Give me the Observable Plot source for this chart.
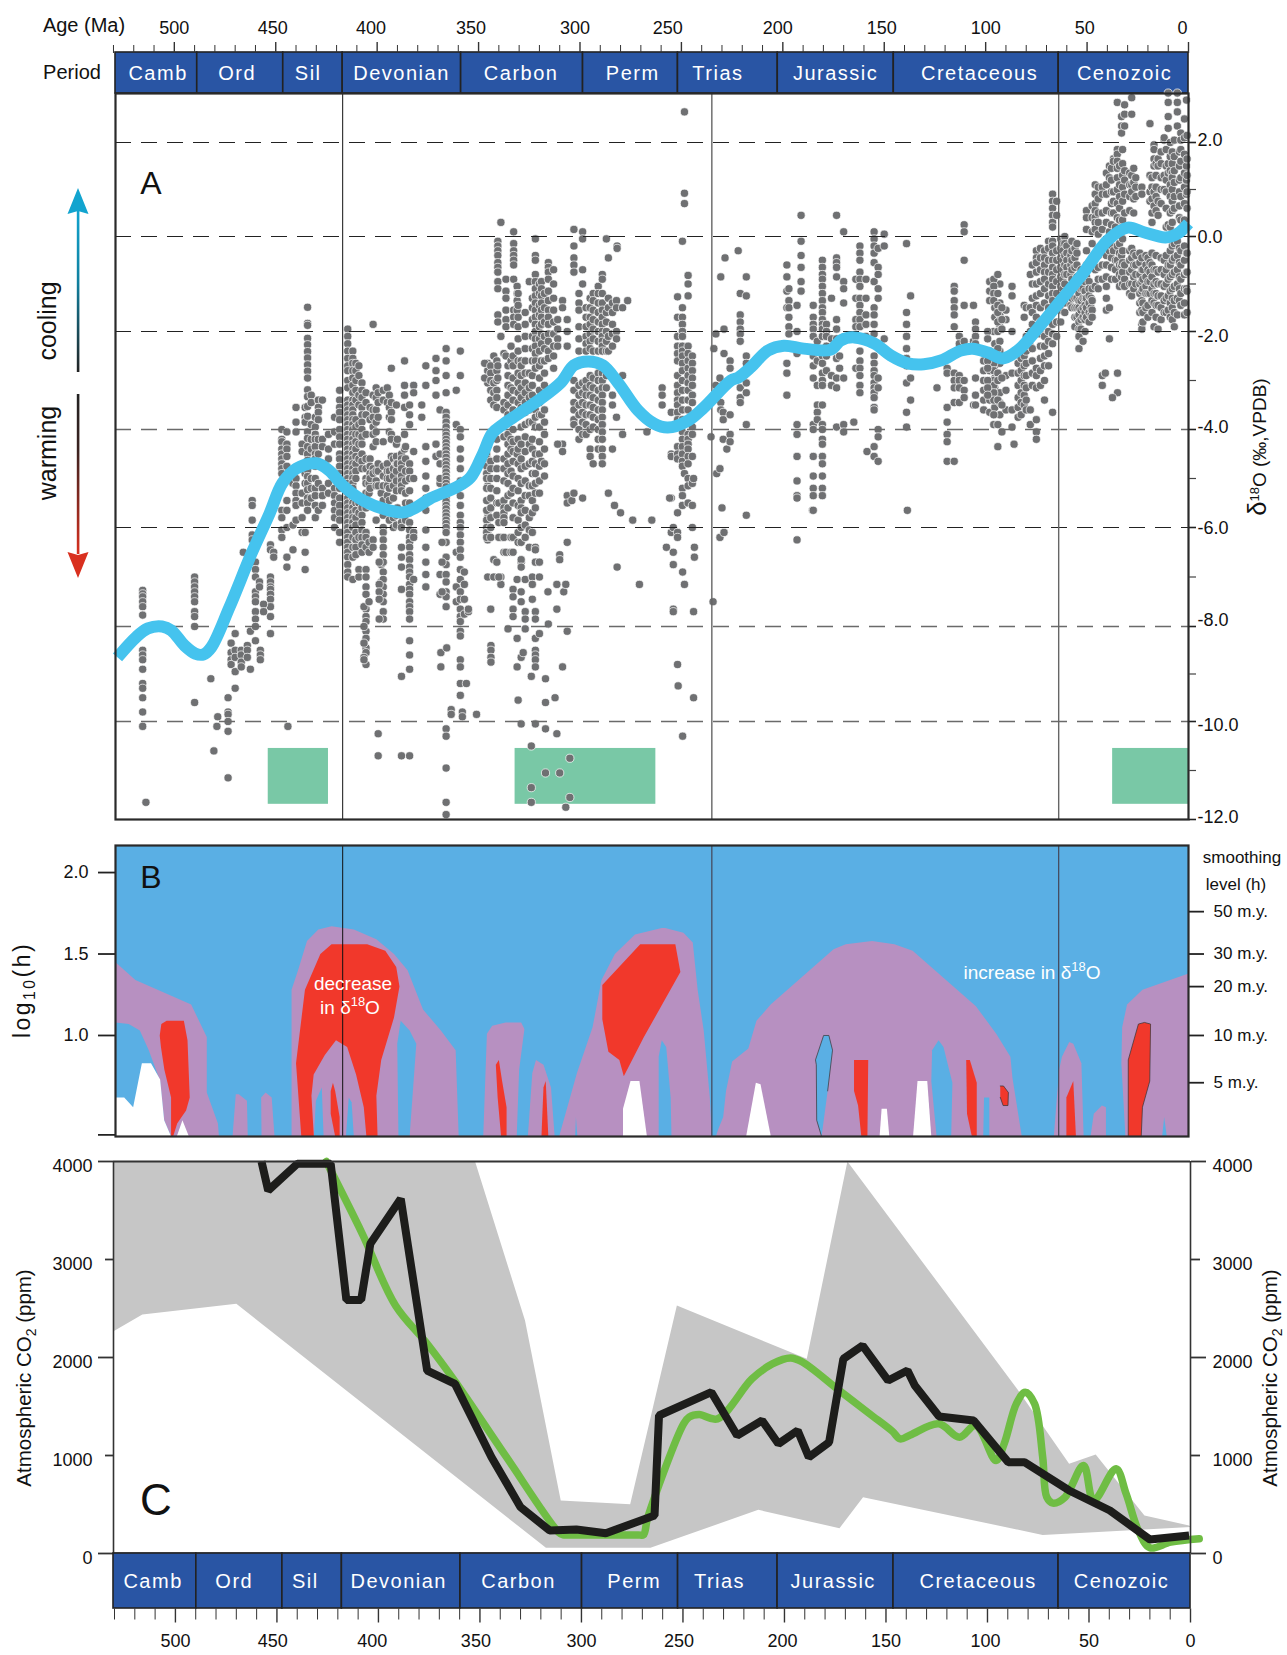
<!DOCTYPE html>
<html><head><meta charset="utf-8">
<script src="https://cdn.jsdelivr.net/npm/d3@7"></script>
<script src="https://cdn.jsdelivr.net/npm/@observablehq/plot@0.6"></script>
<style>
html,body{margin:0;padding:0;background:#fff}
#root{position:relative;width:1287px;height:1655px;overflow:hidden;font-family:"Liberation Sans",Arial,sans-serif;color:#111}
.lab{position:absolute;white-space:nowrap;line-height:1;transform:translate(-50%,-50%)}
.rot{transform:translate(-50%,-50%) rotate(-90deg)}
.lab sup,.lab sub{font-size:.68em;line-height:0}
</style></head><body><div id="root"></div>
<script>
// ---------- time axis ----------
const majorTicks=[500,450,400,350,300,250,200,150,100,50,0];
const minorTicks=[530,520,510,490,480,470,460,440,430,420,410,390,380,370,360,340,330,320,310,290,280,270,260,240,230,220,210,190,180,170,160,140,130,120,110,90,80,70,60,40,30,20,10];
const periodNames=["Camb","Ord","Sil","Devonian","Carbon","Perm","Trias","Jurassic","Cretaceous","Cenozoic"];
const periodEdgesTop=[529,488.7,446.3,417,358.6,298.5,251.7,202.5,145.3,64,0];
const periodEdgesBottom=[530.5,489.7,447.3,418,359.6,299.7,252.4,203.4,146.3,65,0];
const periodLabelTop=[508,469,434,388,329,274,232,174,103,31.5];
const periodLabelBottom=[511,471,436,390,331,274,232,176,104.6,34];
const topTickLabelAt=[500,451.5,403,353.7,302.5,256.7,202.5,151.2,100,51.2,3];
const bottomTickLabelAt=[500,452,403,352,300,252,201,150,101,50,0];
const boundaryAges=[417,235,64];
// ---------- panel A ----------
const d18oTicks=[2,0,-2,-4,-6,-8,-10,-12];
const d18oTickLabelAt=[2.04,-0.02,-2.1,-3.96,-6.02,-7.88,-10.08,-11.96];
const d18oMinor=[1,-1,-3,-5,-7,-9,-11];
const glacialStart=[453.7,332,37.4];
const glacialEnd=[424,262.6,0];
const trendAge=[528,519,513,506,501.5,495,489.7,485.7,481.8,472.9,462,453,446.8,439.9,430,423.6,417,406.9,396,387,380.8,373.9,361,354,347.8,343.3,337.4,320.7,309.4,303,296,288.7,281,271.4,263.5,256.7,246.8,238.9,225.6,222,215.8,207.4,199.5,189.7,176.4,171.4,165,155,146.8,138.4,130.5,122,112.3,106.4,99,91.6,84.2,74.4,63,51.7,39.9,30,22,11.3,5.4,0];
const trendD18o=[-8.65,-8.23,-8.04,-8,-8.08,-8.4,-8.57,-8.59,-8.44,-7.62,-6.53,-5.71,-5.1,-4.8,-4.69,-4.84,-5.14,-5.45,-5.63,-5.69,-5.59,-5.41,-5.18,-4.98,-4.49,-4.08,-3.88,-3.41,-3.04,-2.69,-2.61,-2.69,-3.06,-3.61,-3.88,-3.96,-3.82,-3.55,-3,-2.94,-2.73,-2.39,-2.29,-2.35,-2.37,-2.18,-2.12,-2.24,-2.49,-2.65,-2.67,-2.59,-2.39,-2.35,-2.43,-2.55,-2.39,-1.94,-1.35,-0.76,-0.08,0.19,0.09,-0.02,0.06,0.28];
// each row: age, then the delta-18-O readings stacked at that age
const cambrianOrdovicianPoints=[
[515.6,-7.27,-7.34,-7.4,-7.5,-7.6,-7.77,-8.5,-8.6,-8.7,-8.9,-9.2,-9.3,-9.5,-9.8,-10.1],[514,-11.65],
[490,-7,-7.1,-7.2,-7.3,-7.4,-7.5,-7.7,-7.8,-8,-9.6],[482,-9.1],[473.5,-9.5,-9.8,-9.85,-10,-10.2,-11.15],[470,-9.3],[478.6,-9.9],[479,-10.1],[480.5,-10.6],
[472,-8.35,-8.55,-8.7,-8.8],[470,-8.15,-8.5,-8.65,-8.95],[467,-8.5,-8.6,-8.75,-8.85],[464,-8.4,-8.5,-8.65],[462.5,-8.1,-8.9],[460,-8.3],[457.6,-8.5,-8.6,-8.7],
[461.6,-5.45,-5.55,-5.85,-6.15,-6.25],[460,-6.7,-6.85,-7,-7.3,-7.4,-7.5,-7.7,-7.85,-8],[466,-6.5],[452.6,-6.35,-6.45,-7,-7.1,-7.2,-7.25,-7.35,-7.45,-7.6,-7.8,-8.15],[456,-7.55,-7.7],[451,-6.5,-6.6],[458,-7.1,-7.2],[444,-10.1]];
const silurianPoints=[
[447,-4,-4.2,-4.25,-4.4,-4.5,-4.6,-4.7,-4.8,-4.9,-5.65,-5.8,-6.05,-6.2],[444.5,-4.05,-4.3,-4.4,-4.55,-4.75,-5.45,-5.65,-6,-6.6,-6.8],[441.5,-4.95,-6.45,-5.1,-5.95],
[440,-3.55,-3.85,-4.05,-5,-5.15,-5.3,-5.45,-5.55,-5.85],[437,-4.3,-4.45,-5.3,-5.5,-5.8,-6.1],[435.5,-3.55,-3.75,-3.85,-4.9,-5.1,-6.1,-6.5,-6.85],
[434.3,-1.49,-1.83,-1.87,-2.14,-2.27,-2.41,-2.54,-2.68,-2.81,-2.95,-3.19,-3.33,-3.53,-3.73,-4.05,-4.18,-4.35,-4.5,-4.63,-4.83,-4.96,-5.1,-5.23,-5.4,-5.5,-5.65],
[432.5,-3.3,-3.45,-3.9,-4.2,-4.4,-5,-5.2,-5.4],[430.5,-3.75,-3.95,-4.1,-4.2,-4.35,-4.5,-4.6,-4.75,-5,-5.2,-5.35,-5.55,-5.8],[429,-3.4,-3.55,-3.65,-3.8,-4.2,-4.5,-5.1,-5.65],
[427,-3.4,-4.2,-4.35,-5.2,-5.35,-5.55],[424,-4.1,-4.4,-4.6,-4.8,-5.1,-5.3],[421,-3.75,-4.05,-4.3,-5.2,-5.35,-5.5,-5.65,-5.8,-6],
[418.5,-3.2,-3.4,-3.55,-3.65,-3.8,-4,-4.15,-4.3,-4.5,-4.6,-4.75,-4.9,-5,-5.2,-5.4,-5.55,-5.7,-5.85,-6.1,-6.3]];
const devonianPoints=[
[414.5,-1.95,-2.1,-2.25,-2.4,-2.55,-2.7,-2.8,-3,-3.15,-3.4,-3.5,-3.6,-3.7,-3.8,-3.9,-4,-4.1,-4.2,-4.3,-4.4,-4.5,-4.6,-4.7,-4.8,-4.9,-5,-5.1,-5.2,-5.3,-5.4,-5.5,-5.6,-5.7,-5.8,-5.9,-6,-6.1,-6.2,-6.3,-6.4,-6.5,-6.6,-6.75,-6.9,-7],
[412,-2.4,-2.55,-2.65,-2.8,-2.95,-3.1,-3.25,-3.4,-3.5,-3.6,-3.7,-3.8,-3.9,-4,-4.1,-4.2,-4.3,-4.4,-4.5,-4.6,-4.7,-4.8,-4.9,-5,-5.1,-5.2,-5.3,-5.4,-5.5,-5.6,-5.7,-5.8,-5.9,-6,-6.2,-6.4,-6.6,-7.05],
[410.5,-2.65,-2.8,-3,-3.2,-3.4,-3.8,-3.95,-4.1,-4.25,-4.4,-4.55,-4.7,-4.85,-5,-5.5,-5.65,-5.8,-5.95,-6.1,-6.25,-6.4,-6.55],
[409,-2.7,-2.9,-3.3,-3.5,-3.9,-4.1,-4.3,-4.6,-5.5,-5.7,-6.2,-6.85,-7],
[407.5,-3.05,-3.2,-3.35,-3.55,-3.7,-3.85,-4,-4.15,-4.3,-4.5,-4.65,-4.8,-5.4,-5.6,-5.75,-5.9,-6.05,-6.2,-6.35,-6.5],
[405.5,-3.25,-3.45,-3.7,-4.1,-4.6,-4.8,-5,-5.1,-5.3,-5.45,-5.6,-6.1,-6.2,-6.4,-6.85,-7,-7.2,-7.35,-7.65,-7.8,-7.9,-8.1,-8.25,-8.45,-8.55,-8.8],[406.5,-7.6,-8,-8.35,-8.65,-8.7],[404,-5.1,-5.3,-5.55,-6.3,-6.5,-7.5],[403.5,-3.55,-3.8,-4.6,-4.75,-4.9,-5,-5.2],
[402,-1.85,-3.3,-3.6,-3.75,-3.95,-4.1,-4.35,-4.8,-4.9,-6.25,-6.4],[400.5,-3.15,-3.35,-3.6,-3.85,-4.05,-4.25,-4.85,-5.05,-5.15,-5.85],[399.5,-3.25,-3.45,-3.75,-4.7,-4.85,-5.15,-10.25,-10.7],[398,-5.3,-6.75,-7.1],
[397,-3.2,-3.4,-4.25,-4.75,-4.95,-5.15,-5.45,-5.75,-6,-6.1,-6.25,-6.4,-6.55,-6.7,-6.9,-7.05,-7.2,-7.35,-7.5,-7.7,-7.85],[399,-7.15,-7.3,-7.45,-7.85,-6.7],[395,-3.15,-3.45,-4.7,-4.85,-5,-5.15,-5.35],[394,-3.3,-3.55,-3.75,-4.05,-4.85,-5,-5.2,-5.45,-5.65,-5.85],
[393,-2.75,-3.45,-3.65,-3.8,-4.1,-4.2,-4.55],[392,-4.6,-4.8,-4.95,-5.15,-5.4,-5.8,-6],[390.5,-3.5,-4.3,-4.55,-4.7,-4.85,-5.05,-5.25,-5.75,-5.95],[390,-4.2,-4.7,-5.6],
[388,-4.5,-4.6,-4.7,-4.8,-4.95,-5.05,-5.15,-5.25,-5.75,-5.9,-6,-6.4,-6.6,-6.8,-7.25,-9.05,-10.7],[386.5,-2.6,-3.1,-3.3,-3.55,-4.1,-4.4],[386,-4.35,-4.6,-4.85,-5.05,-5.3,-5.5,-5.85],
[384,-3.5,-3.7,-3.9,-4.7,-4.85,-5,-5.25,-5.5,-5.7,-5.9,-6.05,-6.2,-6.3,-6.4,-6.55,-6.65,-6.8,-6.9,-7,-7.15,-7.25,-7.35,-7.5,-7.6,-7.7,-7.85,-8.3,-8.6,-8.9,-10.7],
[382,-3.1,-3.25,-4.45,-5,-6.1,-6.2,-7.05],[378,-3.75,-3.5],[376,-2.7,-3.1,-4.35,-4.65,-4.95,-5.2,-5.4,-5.65,-6.05,-6.4,-6.7,-6.95,-7.2],[371,-2.55,-2.8,-3,-3.3,-4.3,-4.55],[369,-3.6,-4.5,-4.7,-5.1,-5,-6.95,-7.35],[368.6,-8.55,-8.85],[365.7,-8.45],
[366,-2.35,-2.6,-2.9,-3.25,-3.65,-3.75,-3.85,-3.95,-4.05,-4.12,-4.2,-4.27,-4.35,-4.42,-4.5,-4.57,-4.65,-4.72,-4.8,-4.87,-4.95,-5.02,-5.1,-5.17,-5.25,-5.32,-5.4,-5.47,-5.55,-5.62,-5.7,-5.77,-5.85,-5.92,-6,-6.1,-6.3,-6.6,-6.75,-6.95,-7.1,-7.3,-7.4,-7.6,-10.15,-10.3,-10.95,-11.65,-11.9],[368,-6.3,-6.7,-7.3],
[361,-3.2,-3.9,-6.5,-7.2,-7.5],[359,-2.4,-2.9,-4,-4.15,-4.4,-4.6,-4.8,-5.05,-5.35,-5.55,-5.75,-5.9,-6,-6.15,-6.3,-6.45,-6.6,-6.85,-7.05,-7.3,-7.45,-7.65,-7.8,-7.9,-8.1,-8.2,-8.7,-8.85,-9.2,-9.45],[357,-6.9,-7.15,-7.45,-7.75],[355,-7.7,-7.65],[363.5,-9.75,-9.85],[358,-9.8,-9.9],[356,-9.2],[351,-9.85]];
const carboniferousPoints=[
[345.5,-2.65,-2.8,-2.95,-3.05,-4.6,-4.75,-4.85,-5,-5.15,-5.45,-5.7,-5.8,-5.95,-6.1,-6.25,-7],[346,-4.5,-4.6,-4.75,-4.9,-5,-5.2,-5.45,-5.65,-5.85,-6,-6.1,-6.2],[347,-2.65,-2.95],[344,-2.7,-2.85,-3,-3.2,-3.4,-4.65,-4.8,-5,-5.2,-5.4,-5.6,-5.8,-6,-6.2,-7.65],[343.9,-8.4,-8.5,-8.65,-8.75],
[342.5,-2.5,-3.05,-3.25,-3.5,-6.65,-7],[341,-2.6,-2.8,-3,-3.2,-3.35,-3.55,-4.2,-4.4,-4.6,-4.8,-5,-5.25,-5.5,-5.75,-6.7],[340.5,-0.1,-0.2,-0.3,-0.4,-0.55,-0.65,-0.75,-0.95,-1.1,-1.65,-1.8,-2.7,-2.95],[339,0.3,-2.1,-6.2,-7,-7.15],[340,-5.5,-5.9,-6.2,-7],
[337.5,-2.45,-3.45,-3.6,-4.15,-4.6,-4.8,-5.05,-5.45,-5.6,-5.7,-5.8,-5.9,-6.2,-6.5],[336.5,-0.9,-1.15,-1.3,-1.55,-1.75,-1.9,-2.5,-6.5],[335.5,-2.7,-2.9,-3.1,-3.3,-3.5,-3.7,-4.1,-4.3,-4.5,-4.7,-4.9,-5.1,-5.35,-5.6,-8.05],[334,-2.3,-2.6,-3.15,-4.2,-4.4,-4.85,-5.3,-6.2,-6.5],
[333,-2.5,-2.7,-2.95,-3.2,-3.4,-3.6,-3.8,-4,-4.25,-4.45,-4.65,-4.95,-5.2,-5.5,-5.8,-6.2,-6.5,-7.25,-7.4,-7.65,-7.8],
[332.7,0.1,-0.15,-0.3,-0.4,-0.5,-0.6,-0.9,-1.55,-1.7,-1.85],[331,-1.05,-1.2,-1.35,-1.55,-4.5,-8.85,-7.05,-8.25],[330.5,-1.2,-1.45,-1.7,-1.9,-2.15,-2.4,-2.6,-2.85,-3.05,-3.25,-3.45,-3.65,-4.2,-4.4,-4.7,-5,-5.25,-5.55,-5.85,-6.1,-6.3,-9.55],[329,-2.6,-2.7,-2.9,-3.15,-3.35,-3.55,-3.95,-4.3,-4.6,-4.8,-5.1,-5.45,-5.6,-5.7,-6,-6.3,-6.7,-6.65,-6.8,-7.3,-7.5,-8.65,-10.05],[328,-8.55],
[327,-1.6,-1.85,-2.1,-2.35,-2.6,-2.85,-3.05,-3.25,-3.45,-3.65,-3.9,-4.15,-4.45,-4.75,-5.05,-5.35,-5.65,-5.95,-6.2,-7.05,-7.7,-7.85,-8.05],[325,-0.95,-2.85,-3.15,-3.35,-3.6,-3.85,-4.3,-4.7,-5.15,-5.35,-5.8,-6.05,-6.4],[324,-11.35,-11.65,-10.5,-9.05],
[323.5,-1.3,-1.5,-1.75,-2.1,-2.35,-2.6,-2.9,-3.1,-3.3,-3.5,-3.85,-4.2,-4.4,-4.65,-4.9,-5.15,-5.45,-5.7,-6.1,-7,-7.15,-7.45],[322,-0.05,-0.4,-0.5,-0.8,-0.95,-1.1,-1.25,-1.4,-1.55,-1.7,-1.85,-2,-2.15,-2.3,-2.45,-2.6,-2.75,-3.6,-3.75,-3.95,-4.5,-4.7,-4.9,-5.1,-5.3,-5.6,-6.4,-6.45,-6.7,-7.7,-7.85,-8.25,-8.5,-8.6,-8.7,-8.85,-10.05],
[320,-1,-1.2,-1.45,-1.65,-1.9,-2.15,-2.4,-2.7,-2.95,-3.2,-3.45,-3.7,-3.95,-4.25,-4.5,-4.75,-5.05,-5.3,-6.7,-7,-8.15],[319,-0.95,-1.1,-1.25,-1.4,-1.55,-1.7,-1.85,-2.05,-2.25,-2.6,-3.7,-4.65],[317.5,-1.2,-1.5,-1.8,-2.1,-2.35,-2.6,-2.85,-3.1,-3.35,-3.6,-3.85,-4.1,-4.4,-4.7,-4.95],[317,-9.1,-9.6,-10.15,-11.05],[315.8,-7.3],[315.6,-0.55,-0.65,-0.75,-0.9,-1.15,-1.35,-1.55,-1.7,-1.85,-2.05,-2.2,-2.4,-2.55,-7.95],
[313,-0.7,-1,-1.3,-1.55,-1.8,-2.05,-2.3,-2.5,-2.75],[312.3,-9.5],[311.4,-7.65,-10.25,-7.15],[310,-11.05,-6.55,-6.65],[308.6,-1.35,-1.5,-4.3,-4.45,-8.85],[311,-1.75,-1.95,-2.15,-2.3,-4.3],[308,-7.3],[307,-11.75,-7.15],[306.3,-1.75,-2,-2.3,-8.1,-5.35,-5.5,-6.3],[305,-11.55,-10.75],[304,-5.45],
[303,0.15,-0.2,-0.45,-0.6,-0.75,-3,-3.2,-3.45,-3.6,-3.8,-3.9,-5.3],[300.5,-1.2,-1.4,-1.55,-1.9,-2.15,-2.4,-2.6,-3.1,-3.3,-3.5,-3.7,-4,-4.2],[298.7,0.1,-0.05,-0.7,-1,-3.05,-3.25,-3.45,-3.65,-3.85,-4.1,-5.4]];
const permianPoints=[
[297,-1.5,-1.7,-1.9,-2.1,-2.25,-2.4,-3,-3.15,-3.3,-3.5,-3.7,-3.9,-4.1],[295,-1.3,-1.5,-1.7,-1.85,-2.05,-2.2,-2.35,-2.9,-3.1,-3.3,-3.5,-3.7,-4,-4.4,-4.55],[293.5,-1.2,-1.35,-1.55,-1.75,-1.95,-2.15,-2.4,-2.95,-3.15,-3.35,-3.55,-3.75,-3.95,-4.7],
[291,-1.05,-1.2,-1.4,-1.6,-1.8,-2,-2.2,-2.4,-2.85,-3,-3.2,-3.4,-3.6,-3.8,-4,-4.2,-4.4],[289,-0.8,-0.9,-1.2,-1.4,-1.55,-1.7,-1.85,-2,-2.1,-2.2,-2.3,-2.4,-2.85,-3,-3.15,-3.3,-3.45,-3.6,-3.75,-3.9,-4.05,-4.2,-4.4,-4.55,-4.7],
[287,-0.05,-1.6,-1.8,-2,-2.2,-2.4,-2.9,-3.15],[286,-0.45,-1.3,-1.5,-2.1,-2.4,-5.3],[284,-1.4,-1.6,-1.85,-2.05,-2.3,-3.3,-3.5,-4.4],[282,-1.35,-1.5,-2,-2.15,-3.75],[281.7,-0.2,-0.25,-6.8],[276.5,-1.35],[279,-1.5,-4.1,-2.9],[283,-5.55],[280,-5.7],[274,-5.85],[270.7,-7.15],[264.6,-5.85],[267,-4.05]];
const lateTriassicBoundaryPoints=[
[259.5,-3.15,-3.3,-3.5],[255,-3.65,-4.5,-4.55,-5.4,-6.1],[254,-6,-6.5,-6.75,-7.65,-7.7],[257.4,-6.4],[255.8,-5.4],
[251.9,-1.27,-1.7,-2.1,-2.3,-2.45,-2.6,-2.9,-3.1,-3.25,-3.4,-3.5,-3.65,-3.8,-4.35,-4.5,-4.6,-5.7,-6.1,-6.2,-8.8],[251.6,-9.25],[249.4,-6.9,-10.3],
[249.5,-0.1,-1.5,-1.7,-1.85,-2,-2.1,-2.3,-2.4,-2.5,-2.65,-2.8,-3,-3.2,-3.4,-3.6,-3.8,-4.05,-4.2,-4.35,-4.5,-4.65,-4.75,-5.2,-5.35,-5.55],[248.5,2.65,0.92,0.7,-4.9,-7.15],
[246.7,-0.82,-1,-1.25,-2.3,-2.45,-2.6,-2.75,-2.9,-3.05,-3.2,-3.4,-3.6,-3.85,-4.1,-4.2,-4.3,-4.4,-4.55,-4.7,-5,-5.15,-5.5],[244.6,-2.5,-2.65,-2.8,-2.95,-3.1,-3.3,-3.45,-3.95,-4.1,-4.55,-5.1,-5.55,-6],[244,-5,-7.7,-9.5],[243.6,-6.4,-6.6],
[235.4,-4.15],[234.4,-7.5],[234,-2.35],[233,-2.05,-3.1,-3.3],[232.6,-4.9],[231,-4.8,-6.2,-2.95],[230.6,-0.85,-3.45,-3.6],[230,-5.6],[229.4,-4.2,-3.65,-3.8],[229,-6.1,-2.45,-1.95],[228.5,-0.45],[227.6,-4.4],[226,-3.7,-4.1,-4.25,-2.6,-2.75],[222,-0.3],[221,-1.2,-1.65,-1.8,-1.95,-2.05,-2.2,-3.15,-3.35,-3.45],[218,-0.85,-1.25,-2.5,-2.65,-3.05,-3.25,-3.9,-5.75]];
const jurassicPoints=[
[198,-0.6,-0.85,-1.15,-1.5,-2.65,-2.85,-3.3],[197,-1.1,-1.35,-1.5,-1.7,-1.9,-2.05],[193,-1.45,-2,-2.45,-3.9,-4.1,-4.55,-5.05,-5.35,-5.4,-6.25],[191,0.45,-0.1,-0.4,-0.65,-0.95,-1.15],
[185.4,-5.65],[185,-1.45,-1.7,-1.85,-1.95,-2.1,-2.5,-2.7,-2.95,-3.9,-4,-4.55,-4.95,-5.2,-5.35,-5.65],[183,-2.2,-2.4,-2.6,-3.1,-3.5,-3.65,-3.8],
[180.5,-0.5,-0.65,-0.8,-0.9,-1.05,-1.2,-1.35,-1.5,-1.6,-1.75,-1.85,-1.95,-2.1,-2.5,-2.65,-2.85,-3,-3.1,-3.5,-3.9,-4,-4.2,-4.3,-4.55,-4.7,-4.95,-5.2,-5.35],[178.5,-1.85,-2,-2.1,-2.3,-2.5,-2.8],
[176,-1.3,-2.15,-2.35,-2.9,-3.1],[173.5,0.45,-0.45,-0.55,-0.65,-0.85,-1.75,-1.95,-2.15,-2.55,-2.95,-3.15,-3.95],[170,0.1,-0.95,-1.1,-1.4,-2.95,-3.9,-4.05],[165,-3.85],[172,-2.5,-2.75],
[164,-0.9,-1.3,-1.75,-1.9,-2.75],[162,-0.2,-0.35,-0.5,-0.75,-0.9,-1.05,-1.3,-1.45,-1.6,-1.75,-1.9,-2.4,-2.6,-2.75,-2.9,-3.1,-3.25],[159,-0.9,-1.3,-1.65,-1.85,-2.1],
[155,0.1,-0.05,-0.2,-0.35,-0.55,-0.95,-1.5,-1.65,-1.85,-2.05,-2.5,-2.65,-2.8,-2.9,-3.05,-3.15,-3.25,-3.35,-3.55,-3.6,-4.35,-4.55],[153,-0.25,-0.65,-0.8,-1.1,-1.3,-4,-4.15,-4.65,-2.95,-3.15],[158.5,-4.45],[150,0.05,-0.2,-2.15]];
const cretaceousPoints=[
[139,-0.15,-1.6,-1.85,-2.1,-2.35,-2.55,-2.7,-3.05,-3.65,-3.95],[137,-1.25,-2.95,-3.4],[138.6,-5.65],[124,-3.15],[119,-2.75,-2.85,-3.55,-3.85,-4.1,-4.25,-4.65],
[115.5,-1.05,-1.15,-1.35,-1.5,-1.65,-1.9,-2.45,-2.85,-3,-3.15,-3.45,-4.65],[113,-2.1,-2.25,-2.9,-3,-3.15,-3.45],[110.6,0.25,0.1,-0.5,-1.45,-2.2,-3,-3.2,-3.35],[106,-1.45,-3.5,-2.2],[105,-1.8,-1.95,-2.1,-2.25,-2.95,-3.3,-3.5],
[101,-2.6,-2.8,-3,-3.2,-3.4,-3.6],[98,-0.95,-1.15,-1.35,-2.4,-2.6,-2.8,-3,-3.2,-3.4,-3.65],[95.5,-1.5,-1.7,-2.25,-2.45,-2.7,-2.95,-3.15,-3.35,-3.55],[93,-1,-1.4,-1.65,-1.9,-2.2,-2.4,-2.65,-3.25,-3.45,-3.7],[90,-1.55,-1.75,-2.9,-3.2,-3.6],
[96,-0.9,-1.05,-1.2,-1.35,-2,-2.5,-2.65,-2.8,-3,-3.1,-3.25,-3.4,-3.7,-3.9],[99,-2,-2.15,-2.6,-2.75,-3,-3.15,-3.3],[94,-0.8,-1.2,-1.45,-1.6,-1.8,-2,-2.35,-2.5,-2.85,-3,-3.4,-3.9,-4.35],[92,-1.5,-1.75,-1.95,-2.95,-3.5,-4.05],[87,-1.05,-1.25,-2,-2.85,-3.6,-3.95],[86,-4.3],
[84,-2.65,-2.85,-3.1,-3.35,-3.55,-3.75],[82.5,-2.55,-2.8,-3,-3.25,-3.45,-3.7],[81,-1.45,-1.7,-2.5,-2.7,-2.9,-3.1,-3.3,-3.5],[80,-1.5,-2.1,-2.4,-2.65,-2.9,-3.15,-3.4,-3.6],[78,-0.8,-1.5,-2,-2.3,-3.6,-3.9],[77,-0.6,-1,-1.3,-1.6,-1.85,-2.1,-2.35,-2.6,-2.85,-3.1],
[75,-0.3,-0.45,-0.55,-0.75,-1,-1.25,-1.45,-1.7,-2.05,-2.75,-2.9,-3.15,-3.8,-4.05,-4.2],[73,-0.25,-0.45,-0.7,-0.95,-1.2,-1.5,-1.8,-2.05,-2.3,-2.55,-2.8,-3.1],[71,-0.3,-0.45,-0.6,-0.75,-0.9,-1.1,-1.4,-2.1,-2.3,-2.5,-2.7,-3,-3.4],[69,-0.1,-0.25,-0.5,-0.75,-1,-1.25,-1.5,-1.75,-2,-2.2,-2.45,-2.7],
[67,0.9,0.75,0.6,0.45,0.3,0.2,-0.1,-0.2,-0.35,-0.5,-0.65,-0.8,-0.9,-1.05,-1.2,-1.35,-1.55,-1.85,-2.05,-2.25,-3.65],[65,0.75,0.45,-0.3,-0.5,-0.7,-0.95,-1.2,-1.5,-1.8,-2.1]];
const cenozoicPoints=[
[63,-0.05,-0.25,-0.45,-0.65,-0.85,-1.05,-1.3,-1.55,-1.8],[62,-0.15,-0.3,-0.5,-0.7,-0.9,-1.1,-1.3],[61,0,-0.15,-0.4,-0.6,-0.8,-1,-1.2,-1.4,-1.6],[60,-0.2,-0.35,-0.5,-0.65,-0.8],[58,-1.45,-0.4,-0.6,-0.8],[57.5,-0.1,-0.3,-0.5,-0.7,-0.9,-1.1,-1.3,-1.5],[56,-1.1,-1.3,-1.5,-1.7,-1.9,-0.25,-0.45,-0.65],[55,-0.15,-0.35,-0.6,-0.85,-1.05,-1.3,-1.5,-1.7],[54,-1,-1.2,-1.35,-1.5,-1.65,-1.8,-1.95,-2.1,-2.35],[53,-0.7,-0.9,-1.1,-1.35,-1.55,-1.75,-1.95],[52,-1.1,-1.3,-1.5,-1.7,-2.2],[51,-0.95,-1.15,-1.3,-1.45,-1.6,-1.75,-2],[50.3,0.55,0.4,0.15,-0.3,-0.6,-0.85,-1.3,-1.5,-1.7],[49,-0.95,-1.1,-1.25,-1.4,-1.6,-1.8],[48,-1.3,-1.5,-1.65],[47.5,0.65,0.4,0.1,-0.15,-1.1,-1.35,-1.55,-1.7],
[46,1.1,0.9,0.7,0.55,0.4,0.3,0.15,-0.4,-0.7,-1.05],[44.5,1.05,0.8,0.5,0.3,0.05,-0.4,-0.65,-0.9,-1.1],[42.5,1.05,0.9,0.5,0.15,-0.6,-0.9,-2.9,-3.1],[41,-2.85],[40.5,1.35,1.1,0.9,0.55,0.3,-0.1,-0.4,-0.6,-0.85,-1.05,-1.3,-1.55],[39,1.5,1.25,0.1,-0.3,-1.5,-2.15],[38,1.45,1.2,0.95,0.7,0.5,0.25,-0.2,-0.45,-0.65,-0.9],[37,1.65,1.6,0.95,0.75,0.5,-0.3],[35,-2.85,-3.25],[37.5,-3.35],[36,-0.5,-0.7,-0.9,0.2],
[35.1,2.85,1.85,1.75,1.6,1.45,1.25,1,0.7,0.4,-0.2,-0.5],[34,1.5,1.1,0.85,0.6,0.35,-0.15,-0.35,-0.6,-0.8,-1.05],[33,2.55,2.35,2.2,-0.4,-0.6,-0.85],[32.5,1.85,1.55,1.3,1.05,0.75,0.35,-0.05,-0.3,-0.55,-0.75,-1],[31.5,2.8,2.6,2.35,1.4,1.2,0.9,0.5,-0.6,-0.9,-1.05],[29,1.35,1.1,0.85,0.55,-0.3,-0.5,-0.75,-1,-1.2],[28,2.95,2.6,1.3,1.1,0.95,-0.25,-0.45,-0.7,-1,-1.25],[27,1.45,1.15,0.8,0.5,-0.35,-0.6,-0.85,-1.1],[26,1.25,1.05,0.85,-0.4,-0.6,-0.8,-1],
[24,-0.35,-0.55,-0.8,-1,-1.2,-1.4,-1.6],[23,1.05,0.9,-0.45,-0.7,-0.95,-1.15,-1.35,-1.55,-1.85,-1.95],[22.5,-0.7,-0.9,-1.1,-1.4,-1.6,-1.8],[21,-0.4,-0.6,-0.85,-1.05,-1.2,-1.5],[20,-0.45,-0.7,-0.95,-1.2,-1.45,-1.7],[19,2.4,1.3,0.95,0.75,-0.55,-0.75,-0.95,-1.2],[18,1.25,1.05,0.8,0.5,0.3,-0.35,-0.6,-0.85,-1.1,-1.35,-1.6],[17,1.95,1.85,1.65,1.5,0.95,0.65,-0.7,-1,-1.2,-1.4,-1.9],[16,1.55,1.3,1.05,0.85,0.55,-0.4,-0.7,-0.95,-1.2,-1.45,-1.7],[15,1.65,1.5,0.75,0.45,-0.75,-1,-1.25,-1.45,-1.95],[13.5,1.8,1.55,1.25,1,0.7,-0.45,-0.7,-1,-1.25,-1.5,-1.75],[12,2.05,2.1,1.3,1,-0.5,-0.8,-1.05,-1.35,-1.6],[11,1.85,1.5,1.2,0.95,0.6,0.2,-0.4,-0.7,-1,-1.3,-1.6],
[10,3.05,2.85,2.55,2.3,1.55,1.35,0.25,-0.6,-0.9,-1.25,-1.55],[9,2,1.7,1.4,1.1,0.85,0.5,0.2,-0.3,-0.6,-0.85,-1.15,-1.4,-1.7],[8,1.8,1.55,1.35,1.25,1,0.75,0.55,0.3,-0.2,-0.5,-0.8,-1.1,-1.3,-1.5,-1.75],[7,2.05,1.7,1.4,1.15,0.85,0.6,-0.15,-0.45,-0.75,-1.05,-1.35,-1.6,-1.9],[5.5,3.05,2.85,2.65,2.35,-0.1,-0.4,-0.7,-1,-1.3,-1.65],[4.5,1.8,1.5,1.2,0.95,0.65,0.4,-0.25,-0.55,-0.85,-1.1,-1.35],[3.8,2.2,2.05,1.85,1.6,1.25,0.85,0.35,-0.3,-0.6,-0.9,-1.2,-1.45],[2,2.5,2.1,1.75,1.35,1.05,0.7,0.35,-0.2,-0.5,-0.8,-1.1,-1.4,-1.65],[1,2.9,1.5,1.2,0.9,-0.35,-0.75,-1.1],[0.7,2.15,1.65,1.3,0.95,0.6,-0.35,-0.75,-1.15,-1.6]];
// ---------- panel B ----------
const logHTicks=[2,1.5,1];
const logHBaseTick=[0.39];
const smoothingAt=[1.76,1.5,1.3,1,0.71];
const smoothingLabels=["50 m.y.","30 m.y.","20 m.y.","10 m.y.","5 m.y."];
const purpleShapes=[
[[529,0.38],[529,1.45],[519.2,1.34],[491.7,1.19],[484,0.99],[484,0.65],[478.5,0.46],[478,0.38]],
[[471.3,0.38],[469.7,0.64],[468.2,0.64],[464.2,0.6],[463.8,0.38]],
[[457,0.38],[457.2,0.62],[455,0.65],[452,0.62],[450.6,0.38]],
[[442.2,0.38],[442.2,1.28],[439,1.4],[434.6,1.58],[429,1.65],[422.5,1.67],[411.5,1.65],[400.4,1.59],[391.7,1.5],[385,1.4],[377.4,1.16],[368.6,1.03],[361.3,0.91],[359.8,0.38]],
[[347.7,0.38],[345.9,1.01],[343.3,1.06],[336.7,1.08],[329,1.08],[327.4,1.04],[330,0.79],[331.2,0.38]],
[[325.7,0.38],[323.5,0.77],[321.7,0.85],[318,0.82],[314.3,0.68],[312.5,0.38]],
[[310.3,0.38],[301.5,0.77],[293.8,1.05],[289.4,1.34],[282.8,1.5],[272.9,1.62],[259.7,1.66],[258,1.66],[249,1.63],[244.4,1.57],[242,1.28],[239,1.03],[236,0.62],[235,0.38]],
[[233,0.38],[232,0.42],[229.4,0.5],[228,0.66],[225,0.84],[217,0.92],[213,1.09],[206,1.19],[175,1.53],[169,1.56],[156,1.58],[145,1.56],[136,1.52],[104.8,1.18],[94.8,1.01],[87.8,0.87],[86.8,0.74],[82.2,0.38]],
[[66.4,0.38],[63.8,0.79],[62.4,0.87],[58.8,0.96],[56.8,0.95],[52.8,0.83],[51.7,0.38]],
[[48.3,0.38],[46.7,0.52],[42.7,0.57],[40.7,0.56],[40.7,0.38]],
[[31.1,0.38],[33.1,0.83],[32.7,1.05],[30.3,1.19],[22.7,1.28],[0,1.38],[0,0.38]]];
const blueHoles=[
[[529,0.38],[529,1.08],[522.5,1.07],[517,1.03],[512.6,0.91],[507,0.72],[505,0.48],[501.6,0.38]],
[[431.2,0.38],[430.2,0.6],[427.3,0.68],[426.4,0.38]],
[[415.4,0.38],[414,0.62],[412.6,0.59],[411.5,0.38]],
[[389.5,0.38],[390.1,0.95],[388.4,1.09],[384,1.03],[380.7,0.95],[384,0.38]],
[[261.2,0.38],[261.2,0.87],[259.7,0.97],[257.5,0.93],[255.3,0.62],[254.9,0.38]],
[[302.4,0.38],[302,0.5],[301.3,0.38]],
[[124.2,0.38],[126.8,0.72],[126.4,0.91],[123.2,0.97],[120.8,0.93],[116.4,0.71],[117,0.38]],
[[101.2,0.38],[100.8,0.62],[98.2,0.62],[98.2,0.38]],
[[13,0.38],[12,0.5],[10.7,0.38]]];
const blueOutlined=[[[180.9,0.38],[183.3,0.48],[183.5,0.82],[183.9,0.85],[179.9,1],[177.3,1],[175.5,0.91],[177.9,0.66]]];
const redShapes=[
[[507.2,1.0],[506.4,1.07],[503.8,1.09],[495.3,1.09],[493.5,0.97],[492.4,0.62],[494.2,0.54],[498.6,0.46],[500.6,0.38],[501.6,0.38],[501.6,0.62],[504.9,0.79],[506.6,0.93]],
[[437.4,0.38],[440,0.83],[435.6,1.28],[428,1.5],[422.5,1.56],[404.9,1.56],[396,1.52],[390.6,1.42],[389,1.3],[391.7,1.11],[398,0.85],[400.4,0.63],[399.8,0.38],[405.3,0.38],[406.6,0.56],[410.4,0.76],[414.8,0.93],[420.3,0.97],[425.8,0.88],[431.3,0.76],[432.4,0.63],[431.2,0.38]],
[[422.9,0.66],[421.8,0.71],[420.7,0.66],[418.5,0.5],[418.5,0.38],[420.7,0.38],[422.9,0.52]],
[[341.5,0.82],[340,0.85],[338.4,0.72],[336.2,0.56],[336.2,0.38],[338.9,0.38],[340.6,0.62]],
[[319,0.38],[318,0.68],[316.9,0.72],[315.6,0.38]],
[[289,1.31],[270.3,1.56],[253,1.56],[250.5,1.39],[268.5,0.99],[278.4,0.75],[280.6,0.85],[286,0.9],[289,1.1]],
[[164.9,0.85],[157.9,0.85],[158.3,0.38],[161.3,0.38],[162.9,0.57],[164.9,0.66]],
[[109.6,0.85],[107.8,0.85],[104.4,0.71],[104.4,0.38],[106.8,0.38],[109.2,0.52]],
[[60.2,0.38],[60.2,0.62],[56.8,0.72],[55.5,0.38]]];
const redOutlined=[
[[92.8,0.69],[91.2,0.69],[88.8,0.65],[89,0.57],[91.4,0.57],[92.8,0.62]],
[[29.7,0.38],[29.7,0.85],[24.7,1.07],[21.7,1.08],[18.7,1.07],[19.1,0.72],[22.7,0.56],[23.3,0.38]]];
const whiteShapes=[
[[529,0.38],[529,0.62],[524.7,0.62],[520.3,0.56],[516,0.83],[511.5,0.83],[507,0.73],[505,0.48],[501.6,0.38]],
[[498.8,0.38],[496,0.48],[492.8,0.38]],
[[278.8,0.38],[278.8,0.55],[275.1,0.72],[270.7,0.72],[267,0.38]],
[[218.1,0.38],[213.3,0.71],[211,0.7],[205.9,0.38]],
[[152.3,0.38],[151.3,0.55],[148.7,0.55],[147.5,0.38]],
[[135.8,0.38],[133.6,0.72],[128.8,0.72],[126.8,0.38]]];
// ---------- panel C ----------
const co2Labels=[4000,3000,2000,1000,0];
const co2Long=[4000,2000,0];
const co2Short=[3000,1000];
const rangeAge=[530.5,352.4,327.8,310.2,276,253,189,169,86,59.8,46.7,22.7,0.7,0,72.8,161.3,172.9,212.9,266,317.5,470,516.3,530.5];
const rangeCo2=[4000,4000,2377,540,503,2530,1986,4000,1697,915,1010,388,286,270,190,575,258,446,58,58,2548,2439,2269];
const modelAge=[425.7,408,391.6,376,362,337,311.3,309,305,272,269.5,267.3,249.7,247,242,233,216,206,197,191,174,158,147,143,138,124,113.8,105.8,95.8,91.8,85.8,81.4,76.8,72.8,70.8,67.8,61.8,52.7,47.7,36.7,31.7,25.7,20,9.7,-4.3];
const modelCo2=[4000,3265,2531,2140,1748,985,218,190,190,190,190,370,1323,1391,1418,1374,1782,1935,1996,1952,1680,1425,1250,1170,1210,1323,1187,1306,949,1119,1527,1646,1527,983,575,514,575,898,541,864,609,235,58,116,150];
const proxyAge=[457.6,454.3,440,423.5,415.8,408.5,404,389,376,362.3,344.3,330,315.7,302.5,288,264,261.8,236,223.3,211,203,193.5,188,178,171,161.5,148.9,139.4,135.8,123.8,106.8,89.8,81.8,59.8,39.7,20,0.7];
const proxyCo2=[4000,3704,3976,3976,2588,2588,3160,3619,1867,1731,983,473,235,245,207,388,1408,1646,1204,1357,1119,1255,983,1136,1986,2122,1765,1867,1714,1398,1357,932,932,643,439,143,184];

const BLUE_BAND="#2955a4",INK="#222",SANS='"Liberation Sans",Arial,sans-serif';
const root=document.getElementById("root");
const common={width:1287,style:{background:"transparent",fontFamily:SANS,overflow:"visible"}};
function place(svg,top){svg.style.position="absolute";svg.style.left="0px";svg.style.top=top+"px";svg.style.maxWidth="none";root.appendChild(svg);return svg;}
const zip=(a,b)=>a.map((v,i)=>({a:v,b:b[i]}));
const bandRows=(edges,labels)=>periodNames.map((n,i)=>({n,x1:edges[i],x2:edges[i+1],lx:labels[i],row:"Period"}));

// header
place(Plot.plot({...common,height:93,marginTop:52,marginBottom:0,marginLeft:115,marginRight:99,
 x:{domain:[529,0],axis:null},y:{axis:null,padding:0,domain:["Period"]},
 marks:[
  Plot.barX(bandRows(periodEdgesTop,periodLabelTop),{x1:"x1",x2:"x2",y:"row",fill:BLUE_BAND,stroke:INK,strokeWidth:1.6}),
  Plot.text(bandRows(periodEdgesTop,periodLabelTop),{x:"lx",y:"row",text:"n",fill:"#fff",fontSize:20,dy:1}),
  Plot.axisX(majorTicks,{anchor:"top",tickSize:11,tickFormat:()=>"",label:null,strokeWidth:1.4,stroke:"#333"}),
  Plot.axisX(minorTicks,{anchor:"top",tickSize:8,tickFormat:()=>"",label:null,strokeWidth:1,stroke:"#333"}),
  Plot.text(zip(topTickLabelAt,majorTicks),{x:"a",text:d=>String(d.b),frameAnchor:"top",dy:-31,fontSize:18,fill:"#111"})
 ]}),0);

// panel A
const scatter=[cambrianOrdovicianPoints,silurianPoints,devonianPoints,carboniferousPoints,permianPoints,lateTriassicBoundaryPoints,jurassicPoints,cretaceousPoints,cenozoicPoints]
 .flatMap(g=>g.flatMap(([age,...vs])=>vs.map(v=>({age,v}))));
const glacial=glacialStart.map((s,i)=>({x1:s,x2:glacialEnd[i]}));
place(Plot.plot({...common,height:733,marginTop:0,marginBottom:7,marginLeft:115,marginRight:99,
 x:{domain:[529,0],axis:null},
 y:{type:"linear",domain:[3.04,2,0,-2,-4,-6,-8,-10,-12],range:[0,49,143,238,336,434,533,628,726],axis:null},
 marks:[
  Plot.rect(glacial,{x1:"x1",x2:"x2",y1:-10.55,y2:-11.69,fill:"#79c8a6"}),
  Plot.dot(scatter,{x:"age",y:"v",r:4.1,fill:"#6f7072",stroke:"#fff",strokeWidth:0.7}),
  Plot.ruleY([2,0,-2,-6],{stroke:"#222",strokeWidth:1.1,strokeDasharray:"16,10"}),
  Plot.ruleY([-4,-8,-10],{stroke:"#6a6a6a",strokeWidth:1.4,strokeDasharray:"16,10"}),
  Plot.ruleX([boundaryAges[0]],{stroke:"#111",strokeWidth:1}),
  Plot.ruleX(boundaryAges.slice(1),{stroke:"#666",strokeWidth:1.4}),
  Plot.line(trendAge.map((a,i)=>({a,v:trendD18o[i]})),{x:"a",y:"v",stroke:"#45c3ee",strokeWidth:12,curve:"catmull-rom",strokeLinecap:"butt"}),
  Plot.frame({stroke:"#2a2a2a",strokeWidth:2.2}),
  Plot.axisY(d18oTicks,{anchor:"right",tickSize:7,tickFormat:()=>"",label:null,strokeWidth:1.6,stroke:"#222"}),
  Plot.axisY(d18oMinor,{anchor:"right",tickSize:7,tickFormat:()=>"",label:null,strokeWidth:1.2,stroke:"#444"}),
  Plot.text(zip(d18oTickLabelAt,d18oTicks),{y:"a",text:d=>d.b.toFixed(1),frameAnchor:"right",textAnchor:"start",dx:9,fontSize:18,fill:"#111"})
 ]}),93);

// panel B
const shapeMarks=(list,fill,stroke="none")=>list.map(s=>Plot.line(s,{x:d=>d[0],y:d=>d[1],fill,stroke,strokeWidth:0.7}));
place(Plot.plot({...common,height:295,marginTop:0,marginBottom:4,marginLeft:115,marginRight:99,
 x:{domain:[529,0],axis:null},y:{domain:[0.38,2.166],axis:null},
 marks:[
  Plot.frame({fill:"#5aafe4",stroke:"none"}),
  ...shapeMarks(purpleShapes,"#b790c1"),
  ...shapeMarks(blueHoles,"#5aafe4"),
  ...shapeMarks(redShapes,"#f1382b"),
  ...shapeMarks(whiteShapes,"#fff"),
  ...shapeMarks(blueOutlined,"#5aafe4","#333"),
  ...shapeMarks(redOutlined,"#f1382b","#333"),
  Plot.ruleX([boundaryAges[0]],{stroke:"#111",strokeWidth:1}),
  Plot.ruleX(boundaryAges.slice(1),{stroke:"#445",strokeWidth:1.2}),
  Plot.frame({stroke:"#2a2a2a",strokeWidth:2.2}),
  Plot.axisY(logHTicks,{anchor:"left",tickSize:17,tickPadding:10,tickFormat:d=>d.toFixed(1),label:null,fontSize:18,strokeWidth:1.8,stroke:"#222",fill:"#111"}),
  Plot.axisY(logHBaseTick,{anchor:"left",tickSize:17,tickFormat:()=>"",label:null,strokeWidth:1.8,stroke:"#222"}),
  Plot.axisY(smoothingAt,{anchor:"right",tickSize:15,tickFormat:()=>"",label:null,strokeWidth:1.8,stroke:"#222"}),
  Plot.text(zip(smoothingAt,smoothingLabels),{y:"a",text:"b",frameAnchor:"right",textAnchor:"start",dx:25,fontSize:17,fill:"#111"})
 ]}),845);

// panel C
place(Plot.plot({...common,height:403,marginTop:11,marginBottom:0,marginLeft:113,marginRight:97,
 x:{domain:[530.5,0],axis:null},y:{domain:[0,4000],axis:null},
 marks:[
  Plot.line(rangeAge.map((a,i)=>({a,v:rangeCo2[i]})),{x:"a",y:"v",fill:"#c6c6c6",stroke:"none"}),
  Plot.line(modelAge.map((a,i)=>({a,v:modelCo2[i]})),{x:"a",y:"v",stroke:"#6fbd44",strokeWidth:7.5,curve:"catmull-rom",strokeLinecap:"round"}),
  Plot.line(proxyAge.map((a,i)=>({a,v:proxyCo2[i]})),{x:"a",y:"v",stroke:"#1d1d1b",strokeWidth:8,strokeLinejoin:"miter",strokeLinecap:"butt"}),
  Plot.ruleY([4000,0],{stroke:"#333",strokeWidth:1.8}),
  Plot.ruleX([530.5,0],{stroke:"#333",strokeWidth:1.6}),
  Plot.axisY(co2Long,{anchor:"left",tickSize:15,tickFormat:()=>"",label:null,strokeWidth:1.8,stroke:"#333"}),
  Plot.axisY(co2Short,{anchor:"left",tickSize:8,tickFormat:()=>"",label:null,strokeWidth:1.8,stroke:"#333"}),
  Plot.axisY(co2Long,{anchor:"right",tickSize:15,tickFormat:()=>"",label:null,strokeWidth:1.8,stroke:"#333"}),
  Plot.axisY(co2Short,{anchor:"right",tickSize:9,tickFormat:()=>"",label:null,strokeWidth:1.8,stroke:"#333"}),
  Plot.text(co2Labels,{y:d=>d-45,text:d=>String(d),frameAnchor:"left",textAnchor:"end",dx:-21,fontSize:18,fill:"#111"}),
  Plot.text(co2Labels,{y:d=>d-45,text:d=>String(d),frameAnchor:"right",textAnchor:"start",dx:22,fontSize:18,fill:"#111"})
 ]}),1150);

// bottom band and axis
place(Plot.plot({...common,height:56,marginTop:0,marginBottom:0.5,marginLeft:113,marginRight:97,
 x:{domain:[530.5,0],axis:null},y:{axis:null,padding:0,domain:["Period"]},
 marks:[
  Plot.barX(bandRows(periodEdgesBottom,periodLabelBottom),{x1:"x1",x2:"x2",y:"row",fill:BLUE_BAND,stroke:INK,strokeWidth:1.6}),
  Plot.text(bandRows(periodEdgesBottom,periodLabelBottom),{x:"lx",y:"row",text:"n",fill:"#fff",fontSize:20,dy:1}),
  Plot.axisX(majorTicks,{anchor:"bottom",tickSize:14,tickFormat:()=>"",label:null,strokeWidth:1.4,stroke:"#333"}),
  Plot.axisX(minorTicks,{anchor:"bottom",tickSize:11,tickFormat:()=>"",label:null,strokeWidth:1,stroke:"#333"}),
  Plot.text(zip(bottomTickLabelAt,majorTicks),{x:"a",text:d=>String(d.b),frameAnchor:"bottom",dy:38,fontSize:18,fill:"#111"})
 ]}),1553);
// letter spacing for the period names
root.querySelectorAll("svg text").forEach(t=>{if(periodNames.includes(t.textContent))t.style.letterSpacing="1.5px";});

// free annotations
const labels=[
 ["Age (Ma)",84,25,20],["Period",72,72,20],
 ["A",151,183,32],["B",151,877,32],["C",156,1500,44],
 ["cooling",47,321,25,1],["warming",47,453,25,1],
 ['<span style="font-size:1.35em">δ</span><sup>18</sup>O (‰,VPDB)',1258,447,19,1],
 ["decrease",353,983,19,0,"#fff"],['in δ<sup>18</sup>O',350,1007,19,0,"#fff"],['increase in δ<sup>18</sup>O',1032,972,19,0,"#fff"],
 ["smoothing",1242,857,17],["level (h)",1236,884,17],
 ['<span style="letter-spacing:2.5px">log<sub>10</sub>(h)</span>',22,990,23,1],
 ['Atmospheric CO<sub>2</sub> (ppm)',24,1378,20.5,1],['Atmospheric CO<sub>2</sub> (ppm)',1270,1378,20.5,1]];
for(const [html,x,y,size,rot,color] of labels){
 const d=document.createElement("div");d.className="lab"+(rot?" rot":"");d.innerHTML=html;
 d.style.left=x+"px";d.style.top=y+"px";d.style.fontSize=size+"px";if(color)d.style.color=color;
 root.appendChild(d);
}
// cooling / warming arrows
const ns="http://www.w3.org/2000/svg";
const ar=document.createElementNS(ns,"svg");ar.setAttribute("width",120);ar.setAttribute("height",600);
ar.style.cssText="position:absolute;left:0;top:0;overflow:visible";
ar.innerHTML=`<defs><linearGradient id="gu" x1="0" x2="0" y1="0" y2="1"><stop offset="0" stop-color="#12a4cf"/><stop offset=".45" stop-color="#0f7f9e"/><stop offset="1" stop-color="#222"/></linearGradient>
<linearGradient id="gd" x1="0" x2="0" y1="0" y2="1"><stop offset="0" stop-color="#222"/><stop offset=".35" stop-color="#3a2220"/><stop offset="1" stop-color="#d9301f"/></linearGradient></defs>
<rect x="76.8" y="210" width="2.6" height="162" fill="url(#gu)"/><path d="M78 188L88.5 214L78 211L67.5 214Z" fill="#12a4cf"/>
<rect x="76.8" y="394" width="2.6" height="160" fill="url(#gd)"/><path d="M78 578L88.5 552L78 555L67.5 552Z" fill="#d9301f"/>`;
root.appendChild(ar);
</script></body></html>
